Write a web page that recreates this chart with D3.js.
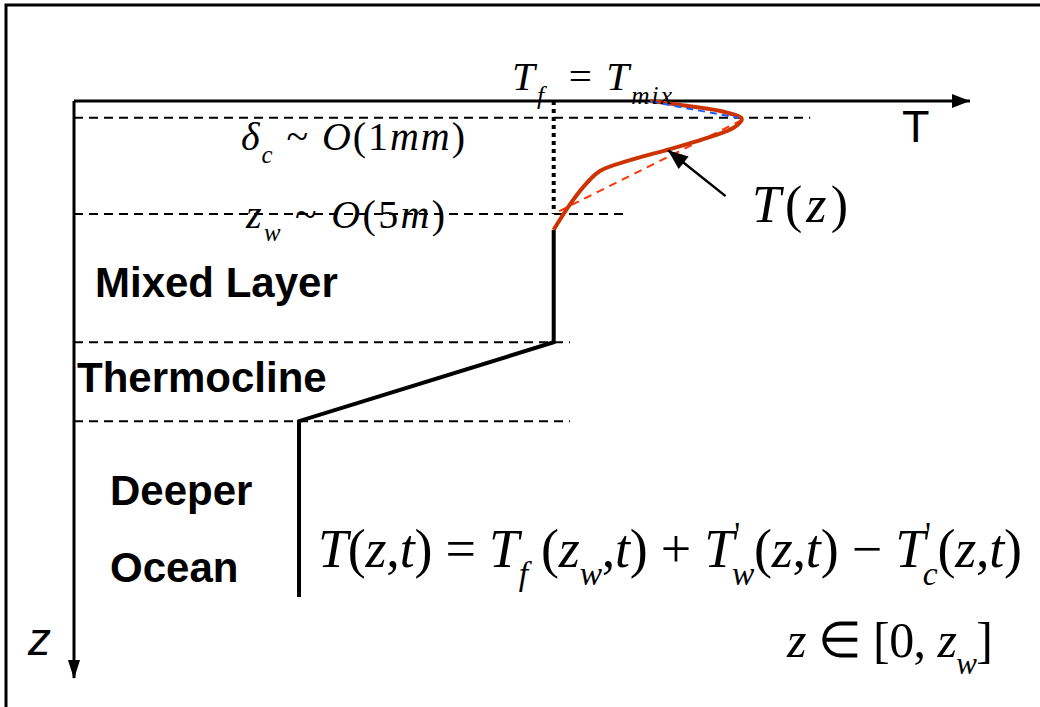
<!DOCTYPE html>
<html>
<head>
<meta charset="utf-8">
<script src="https://cdn.jsdelivr.net/npm/d3@7"></script>
<style>
  body { margin: 0; background: #fff; }
  svg { display: block; }
</style>
</head>
<body>
<div id="container"></div>
<script>
/* CONSTANTS AND GLOBALS */
const width = 1040;
const height = 707;

/* DATA (diagram units: T across, z down) */
// depths of the dashed layer boundaries and how far right each reaches
const layerDepths = [2.9, 19.5, 41.6, 55.2];
const layerReach  = [81.8, 61.6, 55.1, 55.1];

// piecewise T profile below the warm layer
const profileT = [53.3, 53.3, 25.0, 25.0];
const profileZ = [22.2, 41.6, 55.2, 85.5];

// diurnal warm-layer curve T(z)
const curveT = [64.0, 68.4, 72.3, 74.2, 73.4, 70.7, 66.2, 61.8, 58.4, 56.6, 54.9, 53.3];
const curveZ = [0.0, 0.9, 1.9, 3.1, 4.5, 6.2, 8.3, 10.2, 12.1, 14.8, 18.3, 22.2];

// straight dashed approximations
const skinT = [64.1, 73.8];   // blue: cool skin
const skinZ = [0.1, 2.9];
const warmT = [74.2, 53.5];   // orange: warm layer
const warmZ = [3.3, 19.3];

const mixT = 53.3;            // T_f = T_mix, dotted down to z_w
const arrowT = [72.4, 66.0];
const arrowZ = [16.4, 8.5];

// SCALES
const x = d3.scaleLinear().domain([0, 100]).range([74, 974]);
const y = d3.scaleLinear().domain([0, 100]).range([101, 681]);

const svg = d3.select("#container")
  .append("svg")
  .attr("width", width)
  .attr("height", height);

// frame (top and left only)
svg.append("path")
  .attr("d", `M6,707 L6,5 L1040,5`)
  .attr("fill", "none").attr("stroke", "black").attr("stroke-width", 3);

// dashed layer boundaries
svg.selectAll(".layer")
  .data(layerDepths)
  .join("line")
  .attr("class", "layer")
  .attr("x1", x(0))
  .attr("x2", (d, i) => x(layerReach[i]))
  .attr("y1", d => y(d)).attr("y2", d => y(d))
  .attr("stroke", "black").attr("stroke-width", 2)
  .attr("stroke-dasharray", "9,6");

// dotted T_mix line
svg.append("line")
  .attr("x1", x(mixT)).attr("x2", x(mixT))
  .attr("y1", y(0)).attr("y2", y(layerDepths[1]))
  .attr("stroke", "black").attr("stroke-width", 4)
  .attr("stroke-dasharray", "4,4");

// AXES
svg.append("line")
  .attr("x1", x(0)).attr("y1", y(0)).attr("x2", 970).attr("y2", y(0))
  .attr("stroke", "black").attr("stroke-width", 3);
svg.append("path")
  .attr("d", `M970,${y(0)} L952,${y(0) - 7} L952,${y(0) + 7} z`).attr("fill", "black");

svg.append("line")
  .attr("x1", x(0)).attr("y1", y(0)).attr("x2", x(0)).attr("y2", 678)
  .attr("stroke", "black").attr("stroke-width", 3);
svg.append("path")
  .attr("d", `M${x(0)},679 L${x(0) - 6},660 L${x(0) + 6},660 z`).attr("fill", "black");

// profile
const line = d3.line().x(d => x(d[0])).y(d => y(d[1]));

svg.append("path")
  .datum(d3.zip(profileT, profileZ))
  .attr("d", line)
  .attr("fill", "none").attr("stroke", "black").attr("stroke-width", 4)
  .attr("stroke-linejoin", "miter");

svg.append("path")
  .datum(d3.zip(warmT, warmZ))
  .attr("d", line)
  .attr("fill", "none").attr("stroke", "#ff3300").attr("stroke-width", 2)
  .attr("stroke-dasharray", "8,6");

svg.append("path")
  .datum(d3.zip(curveT, curveZ))
  .attr("d", line.curve(d3.curveCatmullRom))
  .attr("fill", "none").attr("stroke", "#cc3300").attr("stroke-width", 4);

line.curve(d3.curveLinear);
svg.append("path")
  .datum(d3.zip(skinT, skinZ))
  .attr("d", line)
  .attr("fill", "none").attr("stroke", "#1a5cff").attr("stroke-width", 2)
  .attr("stroke-dasharray", "7,5");

// arrow pointing at the curve
svg.append("line")
  .attr("x1", x(arrowT[0])).attr("y1", y(arrowZ[0]))
  .attr("x2", x(arrowT[1])).attr("y2", y(arrowZ[1]))
  .attr("stroke", "black").attr("stroke-width", 2.5);
svg.append("path")
  .attr("transform", () => {
    const a = Math.atan2(y(arrowZ[1]) - y(arrowZ[0]), x(arrowT[1]) - x(arrowT[0])) * 180 / Math.PI;
    return `translate(${x(arrowT[1])},${y(arrowZ[1])}) rotate(${a})`;
  })
  .attr("d", "M0,0 L-20,-8 L-20,8 z").attr("fill", "black");

// TEXT =============================================
const serif = "'Liberation Serif', 'Times New Roman', serif";
const sans = "'Liberation Sans', Arial, sans-serif";

// writes runs of text; each run: [text, italic, shift(0 normal, 1 sub, -1 sup), back]
function mathText(px, py, size, runs, len) {
  const t = svg.append("text")
    .attr("x", px).attr("y", py)
    .attr("font-family", serif)
    .attr("font-size", size);
  let cur = 0;
  runs.forEach(r => {
    const [str, it, shift, back] = r;
    const fs = shift ? size * 0.62 : size;
    const target = shift === 1 ? size * 0.33 : shift === -1 ? -size * 0.4 : 0;
    const ts = t.append("tspan")
      .attr("font-style", it ? "italic" : "normal")
      .attr("font-size", fs)
      .attr("dy", target - cur)
      .text(str);
    if (back) ts.attr("dx", -back);
    cur = target;
  });
  if (len) t.attr("textLength", len).attr("lengthAdjust", "spacing");
  return t;
}

mathText(512, 90, 41, [["T", 1, 0], ["f", 1, 1], ["\u2009 = ", 0, 0], ["T", 1, 0], ["mix", 1, 1]], 160);
mathText(241, 150, 40, [["\u03b4", 1, 0], ["c", 1, 1], [" ~ ", 0, 0], ["O", 1, 0], ["(1", 0, 0], ["mm", 1, 0], [")", 0, 0]], 224);
mathText(246, 228, 40, [["z", 1, 0], ["w", 1, 1], [" ~ ", 0, 0], ["O", 1, 0], ["(5", 0, 0], ["m", 1, 0], [")", 0, 0]], 199);
mathText(752, 222, 52, [["T", 1, 0], ["(", 0, 0], ["z", 1, 0], [")", 0, 0]], 96);
mathText(318, 567, 54, [
  ["T", 1, 0], ["(", 0, 0], ["z", 1, 0], [",", 0, 0], ["t", 1, 0], [") = ", 0, 0],
  ["T", 1, 0], ["f", 1, 1], [" (", 0, 0], ["z", 1, 0], ["w", 1, 1], [",", 0, 0], ["t", 1, 0], [") + ", 0, 0],
  ["T", 1, 0], ["'", 0, -1], ["w", 1, 1, 8], ["(", 0, 0], ["z", 1, 0], [",", 0, 0], ["t", 1, 0], [") \u2212 ", 0, 0],
  ["T", 1, 0], ["'", 0, -1], ["c", 1, 1, 8], ["(", 0, 0], ["z", 1, 0], [",", 0, 0], ["t", 1, 0], [")", 0, 0]
], 704);
mathText(787, 657, 50, [["z", 1, 0], [" \u2208 [0, ", 0, 0], ["z", 1, 0], ["w", 1, 1], ["]", 0, 0]], 206);

// layer labels
const labels = [["Mixed Layer", 95, 297], ["Thermocline", 77, 392], ["Deeper", 110, 505], ["Ocean", 110, 582]];
svg.selectAll(".lbl")
  .data(labels)
  .join("text")
  .attr("class", "lbl")
  .attr("x", d => d[1]).attr("y", d => d[2])
  .attr("font-family", sans).attr("font-weight", "bold").attr("font-size", 42)
  .text(d => d[0]);

svg.append("text")
  .attr("x", 902).attr("y", 142)
  .attr("font-family", sans).attr("font-size", 45)
  .text("T");

svg.append("text")
  .attr("x", 28).attr("y", 655)
  .attr("font-family", sans).attr("font-style", "italic").attr("font-size", 46)
  .text("z");
</script>
</body>
</html>
